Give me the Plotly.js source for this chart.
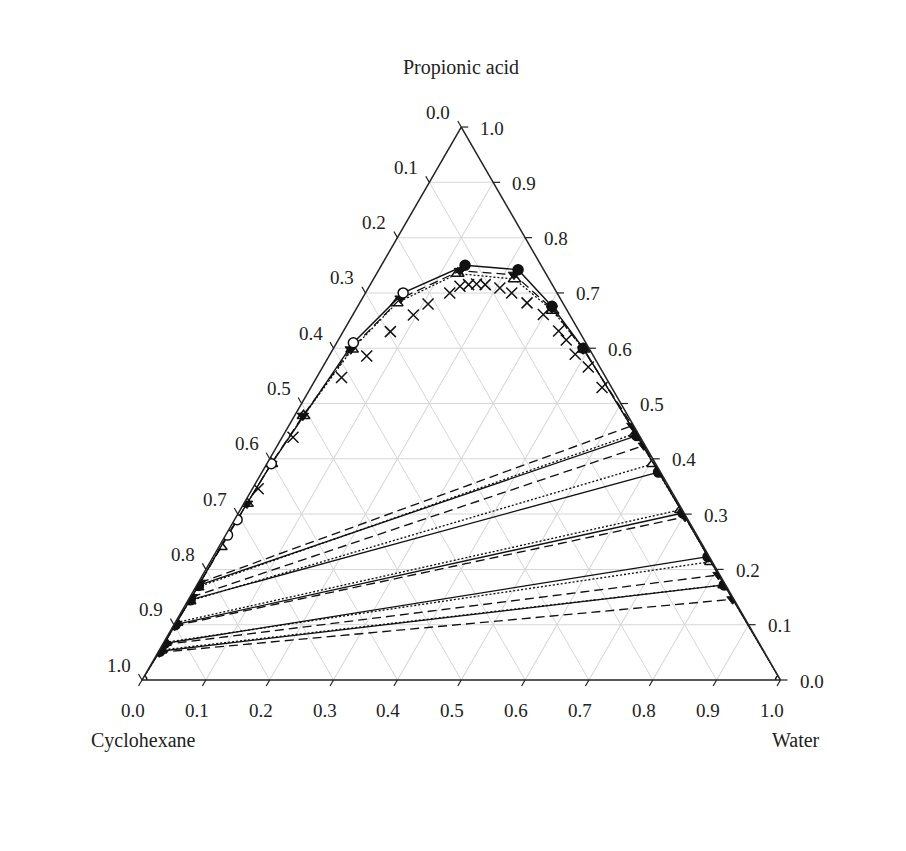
<!DOCTYPE html>
<html><head><meta charset="utf-8">
<script src="https://cdn.plot.ly/plotly-3.0.1.min.js"></script>
<style>html,body{margin:0;padding:0;background:#fff}#chart{width:906px;height:851px}</style>
</head><body><div id="chart"></div>
<script>
// ---- axis ticks ----
const tickVals   = [0, 0.1, 0.2, 0.3, 0.4, 0.5, 0.6, 0.7, 0.8, 0.9, 1.0];
const tickLabels = ['0.0', '0.1', '0.2', '0.3', '0.4', '0.5', '0.6', '0.7', '0.8', '0.9', '1.0'];
const axisTitles = ['Propionic acid', 'Cyclohexane', 'Water'];

// ---- experimental binodal (circles, solid line) ----
const expBinAcid  = [0.000, 0.052, 0.066, 0.100, 0.145, 0.171, 0.262, 0.290, 0.391, 0.610, 0.700, 0.750, 0.742, 0.676, 0.600, 0.442, 0.376, 0.302, 0.223, 0.172, 0.000];
const expBinWater = [0.000, 0.002, 0.002, 0.002, 0.003, 0.003, 0.003, 0.004, 0.007, 0.026, 0.059, 0.131, 0.218, 0.304, 0.391, 0.554, 0.621, 0.696, 0.775, 0.826, 1.000];
const expBinCyclo = [1.000, 0.946, 0.932, 0.898, 0.852, 0.826, 0.735, 0.706, 0.602, 0.364, 0.241, 0.119, 0.040, 0.020, 0.009, 0.004, 0.003, 0.002, 0.002, 0.002, 0.000];
const expBinFilled = [0, 1, 1, 1, 1, 1, 0, 0, 0, 0, 0, 1, 1, 1, 1, 1, 1, 1, 1, 1, 0];

// ---- model 1 binodal (filled down triangles, dashed line) ----
const m1BinAcid  = [0.050, 0.064, 0.098, 0.150, 0.176, 0.319, 0.391, 0.478, 0.598, 0.690, 0.740, 0.733, 0.672, 0.598, 0.460, 0.424, 0.295, 0.190, 0.146];
const m1BinWater = [0.002, 0.002, 0.002, 0.003, 0.003, 0.005, 0.007, 0.013, 0.028, 0.060, 0.128, 0.216, 0.306, 0.392, 0.538, 0.574, 0.703, 0.808, 0.852];
const m1BinCyclo = [0.948, 0.934, 0.900, 0.847, 0.821, 0.676, 0.602, 0.509, 0.374, 0.250, 0.132, 0.051, 0.022, 0.010, 0.002, 0.002, 0.002, 0.002, 0.002];

// ---- model 2 binodal (open triangles, dotted line) ----
const m2BinAcid  = [0.000, 0.054, 0.068, 0.104, 0.143, 0.168, 0.241, 0.319, 0.391, 0.478, 0.598, 0.682, 0.735, 0.725, 0.668, 0.598, 0.446, 0.391, 0.308, 0.214, 0.172, 0.000];
const m2BinWater = [0.000, 0.002, 0.002, 0.002, 0.003, 0.003, 0.003, 0.005, 0.007, 0.014, 0.030, 0.058, 0.127, 0.221, 0.309, 0.393, 0.550, 0.605, 0.690, 0.784, 0.826, 1.000];
const m2BinCyclo = [1.000, 0.944, 0.930, 0.894, 0.854, 0.829, 0.756, 0.676, 0.602, 0.508, 0.372, 0.260, 0.138, 0.054, 0.023, 0.009, 0.004, 0.004, 0.002, 0.002, 0.002, 0.000];

// ---- cloud-point data (crosses) ----
const xAcid  = [0.346, 0.439, 0.547, 0.586, 0.630, 0.660, 0.680, 0.700, 0.712, 0.715, 0.716, 0.715, 0.709, 0.700, 0.682, 0.661, 0.631, 0.615, 0.589, 0.566, 0.529];
const xWater = [0.009, 0.017, 0.039, 0.059, 0.074, 0.095, 0.108, 0.132, 0.142, 0.154, 0.166, 0.180, 0.206, 0.229, 0.262, 0.298, 0.337, 0.357, 0.384, 0.416, 0.456];
const xCyclo = [0.645, 0.544, 0.414, 0.355, 0.296, 0.245, 0.212, 0.168, 0.146, 0.131, 0.118, 0.105, 0.085, 0.071, 0.056, 0.041, 0.032, 0.028, 0.027, 0.018, 0.015];

// ---- tie lines: organic (left) and aqueous (right) ends ----
const expTieLAcid  = [0.171, 0.145, 0.100, 0.066, 0.052];
const expTieLWater = [0.003, 0.003, 0.002, 0.002, 0.002];
const expTieLCyclo = [0.826, 0.852, 0.898, 0.932, 0.946];
const expTieRAcid  = [0.442, 0.376, 0.302, 0.223, 0.172];
const expTieRWater = [0.554, 0.621, 0.696, 0.775, 0.826];
const expTieRCyclo = [0.004, 0.003, 0.002, 0.002, 0.002];

const m1TieLAcid  = [0.176, 0.150, 0.098, 0.064, 0.050];
const m1TieLWater = [0.003, 0.003, 0.002, 0.002, 0.002];
const m1TieLCyclo = [0.821, 0.847, 0.900, 0.934, 0.948];
const m1TieRAcid  = [0.460, 0.424, 0.295, 0.190, 0.146];
const m1TieRWater = [0.538, 0.574, 0.703, 0.808, 0.852];
const m1TieRCyclo = [0.002, 0.002, 0.002, 0.002, 0.002];

const m2TieLAcid  = [0.168, 0.143, 0.104, 0.068, 0.054];
const m2TieLWater = [0.003, 0.003, 0.002, 0.002, 0.002];
const m2TieLCyclo = [0.829, 0.854, 0.894, 0.930, 0.944];
const m2TieRAcid  = [0.446, 0.391, 0.308, 0.214, 0.172];
const m2TieRWater = [0.550, 0.605, 0.690, 0.784, 0.826];
const m2TieRCyclo = [0.004, 0.004, 0.002, 0.002, 0.002];

const INK = '#111';
const W = 906, Hpx = 851;
// triangle placement (pixels): left/right of the base and its baseline
const X0 = 142, X1 = 780.5, YB = 680;
const SIDE = X1 - X0, TRI_H = SIDE * Math.sqrt(3) / 2;

const traces = [];
function addTies(la, lw, lc, ra, rw, rc, dash) {
  for (let i = 0; i < la.length; i++) {
    traces.push({
      type: 'scatterternary', mode: 'lines', hoverinfo: 'skip', showlegend: false,
      a: [la[i], ra[i]], b: [lc[i], rc[i]], c: [lw[i], rw[i]],
      line: {color: INK, width: 1.35, dash: dash}
    });
  }
}
addTies(expTieLAcid, expTieLWater, expTieLCyclo, expTieRAcid, expTieRWater, expTieRCyclo, 'solid');
addTies(m1TieLAcid, m1TieLWater, m1TieLCyclo, m1TieRAcid, m1TieRWater, m1TieRCyclo, '9px,5px');
addTies(m2TieLAcid, m2TieLWater, m2TieLCyclo, m2TieRAcid, m2TieRWater, m2TieRCyclo, '2px,2px');

traces.push({
  type: 'scatterternary', mode: 'markers', showlegend: false,
  a: xAcid, b: xCyclo, c: xWater,
  marker: {symbol: 'x-thin', size: 11, color: INK, line: {color: INK, width: 1.5}}
});
traces.push({
  type: 'scatterternary', mode: 'lines+markers', showlegend: false,
  a: m2BinAcid, b: m2BinCyclo, c: m2BinWater,
  line: {color: INK, width: 1.3, dash: '2px,2px'},
  marker: {symbol: 'triangle-up', size: 11, color: '#fff', line: {color: INK, width: 1.5}}
});
traces.push({
  type: 'scatterternary', mode: 'lines+markers', showlegend: false,
  a: m1BinAcid, b: m1BinCyclo, c: m1BinWater,
  line: {color: INK, width: 1.3, dash: '9px,5px'},
  marker: {symbol: 'triangle-down', size: 10, color: INK, line: {color: INK, width: 1}}
});
traces.push({
  type: 'scatterternary', mode: 'lines+markers', showlegend: false,
  a: expBinAcid, b: expBinCyclo, c: expBinWater,
  line: {color: INK, width: 1.4},
  marker: {symbol: 'circle', size: 10,
           color: expBinFilled.map(f => f ? INK : '#fff'),
           line: {color: INK, width: 1.5}}
});

function axis() {
  return {
    title: {text: ''},
    min: 0, tickmode: 'array', tickvals: tickVals,
    ticks: '', showticklabels: false,
    linecolor: '#222', linewidth: 1.5,
    showgrid: true, gridcolor: '#d6d6d6', gridwidth: 1
  };
}

// position of a composition (acid, water) on the page, for label/tick placement
function pagePos(acid, water) {
  return [X0 + water * SIDE + acid * SIDE / 2, YB - acid * TRI_H];
}
const FONT = '"Liberation Serif", "Times New Roman", serif';
const annotations = [];
const shapes = [];
function label(text, px, py, size) {
  annotations.push({
    xref: 'paper', yref: 'paper', x: px / W, y: 1 - py / Hpx,
    xanchor: 'center', yanchor: 'middle', showarrow: false,
    text: text, font: {family: FONT, size: size, color: '#222'}
  });
}
function tick(p, dx, dy) {
  const L = 7;
  shapes.push({
    type: 'line', xref: 'paper', yref: 'paper',
    x0: p[0] / W, y0: 1 - p[1] / Hpx,
    x1: (p[0] + dx * L) / W, y1: 1 - (p[1] + dy * L) / Hpx,
    line: {color: '#222', width: 1.2}
  });
}
const S3 = Math.sqrt(3) / 2;
tickVals.forEach((v, i) => {
  // left side: cyclohexane fraction
  let p = pagePos(1 - v, 0);
  tick(p, -0.5, -S3);
  label(tickLabels[i], p[0] - 23, p[1] - 15, 19);
  // bottom: water fraction
  p = pagePos(0, v);
  tick(p, -0.5, S3);
  label(tickLabels[i], p[0] - 9, p[1] + 30, 19);
  // right side: propionic acid fraction
  p = pagePos(v, 1 - v);
  tick(p, 1, 0);
  label(tickLabels[i], p[0] + 31, p[1] + 1, 19);
});
label(axisTitles[0], (X0 + X1) / 2, 67, 20);
label(axisTitles[1], 143, 740, 20);
label(axisTitles[2], 796, 740, 20);

const layout = {
  width: W, height: Hpx,
  margin: {l: 0, r: 0, t: 0, b: 0},
  paper_bgcolor: '#fff',
  font: {family: FONT, color: '#222'},
  showlegend: false,
  annotations: annotations,
  shapes: shapes,
  ternary: {
    sum: 1,
    bgcolor: '#fff',
    domain: {x: [X0 / W, X1 / W], y: [(Hpx - YB) / Hpx, (Hpx - YB + TRI_H) / Hpx]},
    aaxis: axis(),
    baxis: axis(),
    caxis: axis()
  }
};

Plotly.newPlot('chart', traces, layout, {displayModeBar: false, staticPlot: true});
</script></body></html>
